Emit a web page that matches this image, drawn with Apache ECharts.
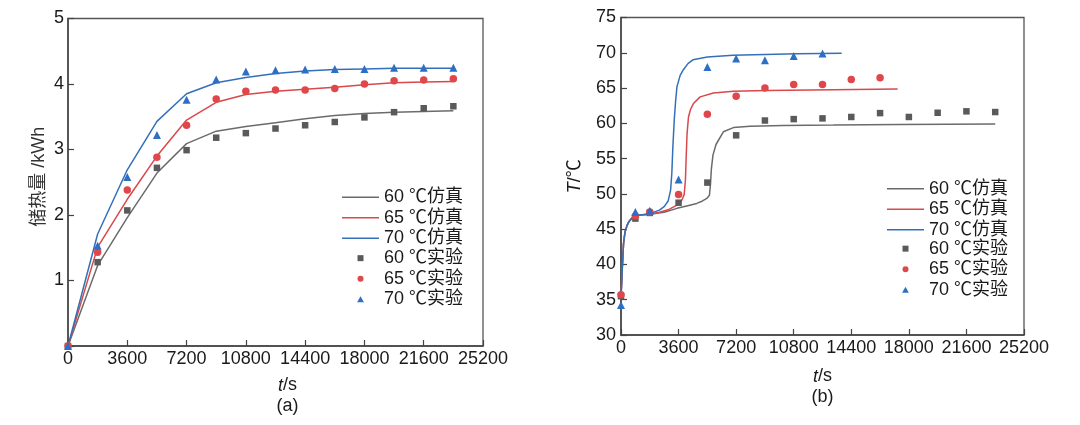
<!DOCTYPE html>
<html><head><meta charset="utf-8">
<script src="https://cdn.jsdelivr.net/npm/echarts@6/dist/echarts.min.js"></script>
<style>html,body{margin:0;padding:0;background:#fff}#c{width:1080px;height:425px}</style>
</head><body><div id="c"></div>
<script>
// ---- Chart (a): stored heat ----
const timeA = [0,1800,3600,5400,7200,9000,10800,12600,14400,16200,18000,19800,21600,23400];
const simA60 = [0,1.23,1.96,2.64,3.09,3.28,3.35,3.41,3.47,3.52,3.55,3.57,3.58,3.59];
const simA65 = [0,1.51,2.24,2.90,3.45,3.72,3.84,3.89,3.92,3.95,3.99,4.02,4.03,4.04];
const simA70 = [0,1.71,2.69,3.43,3.85,4.02,4.10,4.16,4.20,4.22,4.23,4.24,4.24,4.24];
const expA60 = [0,1.28,2.07,2.72,2.99,3.18,3.25,3.32,3.37,3.42,3.49,3.57,3.63,3.66];
const expA65 = [0,1.43,2.38,2.88,3.37,3.77,3.89,3.91,3.91,3.93,4.00,4.05,4.06,4.08];
const expA70 = [0,1.53,2.58,3.22,3.76,4.07,4.19,4.21,4.22,4.23,4.23,4.25,4.25,4.25];

// ---- Chart (b): temperature ----
const simTimeB60 = [0,80,160,250,375,500,700,900,1200,1800,2700,3500,4300,4740,5100,5365,5530,5600,5650,5750,5940,6400,7030,8070,10150,13270,17430,23400];
const simB60 = [35.5,39.5,43.0,44.6,45.5,46.1,46.6,46.85,47.0,47.1,47.4,47.95,48.4,48.65,49.0,49.35,49.8,51.5,53.5,55.5,57.0,58.8,59.4,59.6,59.7,59.75,59.85,59.9];
const simTimeB65 = [0,80,160,250,375,500,700,900,1200,1800,2400,3000,3500,3800,3950,4030,4080,4130,4220,4350,4530,4950,5780,7030,9110,13270,17300];
const simB65 = [35.5,39.5,43.0,44.6,45.5,46.1,46.6,46.85,47.0,47.1,47.4,47.8,48.4,49.1,49.9,52.0,55.5,58.5,60.9,62.0,62.8,63.75,64.3,64.55,64.65,64.75,64.85];
const simTimeB70 = [0,80,160,250,375,500,700,900,1200,1800,2400,2700,2950,3100,3180,3240,3330,3420,3500,3700,3900,4200,4500,5400,7000,9000,11000,13800];
const simB70 = [35.0,39.3,43.0,44.6,45.5,46.1,46.6,46.85,47.0,47.2,47.7,48.2,49.0,50.5,53.0,56.5,60.5,63.3,65.2,66.8,67.6,68.5,69.0,69.4,69.65,69.75,69.85,69.95];
const expTimeB60 = [0,900,1800,3600,5400,7200,9000,10800,12600,14400,16200,18000,19800,21600,23400];
const expB60 = [35.5,46.5,47.3,48.75,51.6,58.3,60.4,60.6,60.7,60.9,61.45,60.9,61.5,61.7,61.6];
const expTimeB65 = [0,900,1800,3600,5400,7200,9000,10800,12600,14400,16200];
const expB65 = [35.7,46.85,47.45,49.9,61.3,63.85,65.0,65.5,65.5,66.2,66.45];
const expTimeB70 = [0,900,1800,3600,5400,7200,9000,10800,12600];
const expB70 = [34.25,47.45,47.6,52.05,68.0,69.2,68.95,69.56,69.9];

const names = ['60 ℃仿真','65 ℃仿真','70 ℃仿真','60 ℃实验','65 ℃实验','70 ℃实验'];

const FONT = 'Liberation Sans, Arial, Noto Sans CJK SC, sans-serif';
const C = {
  gL:'#6b6b6b', rL:'#d9484a', bL:'#3470b8',
  gM:'#5a5a5a', rM:'#e0474a', bM:'#2d6fc4'
};
const pair = (xs, ys) => xs.map((x,i)=>[x, ys[i]]);

function lineS(name, xs, ys, color, gi){
  return {name, type:'line', xAxisIndex:gi, yAxisIndex:gi, data:pair(xs,ys),
    symbol:'none', showSymbol:false, lineStyle:{width:1.5, color}, itemStyle:{color}, z:2, silent:true};
}
function scatS(name, xs, ys, color, sym, size, gi){
  return {name, type:'scatter', xAxisIndex:gi, yAxisIndex:gi, data:pair(xs,ys),
    symbol:sym, symbolSize:size, symbolKeepAspect:true, itemStyle:{color, opacity:1}, z:3, silent:true};
}

const axisLineStyle = {show:true, lineStyle:{color:'#444', width:1.5}};
const tickStyle = {show:true, inside:true, length:6, lineStyle:{color:'#444', width:1.2}};
const labelBase = {color:'#1a1a1a', fontSize:18, fontFamily:FONT};

function xAx(gi, nameText, gap, pad){
  return {type:'value', gridIndex:gi, min:0, max:25200, interval:3600,
    axisLine:axisLineStyle, axisTick:tickStyle, splitLine:{show:false},
    axisLabel:Object.assign({margin:4, formatter:v=>String(v)}, labelBase),
    name:nameText, nameLocation:'middle', nameGap:gap,
    nameTextStyle:{color:'#1a1a1a', fontSize:18, fontFamily:FONT, lineHeight:21, padding:pad,
      rich:{i:{fontStyle:'italic', fontSize:18, fontFamily:FONT, color:'#1a1a1a', lineHeight:21},
            n:{fontSize:18, fontFamily:FONT, color:'#1a1a1a', lineHeight:21}}}
  };
}

// legend marker icons: 37 x 6 box with the symbol centred (degenerate end points fix the box)
const ICON_SQUARE = 'path://M0,3L0,3M37,3L37,3M15.5,0H21.5V6H15.5Z';
const ICON_CIRCLE = 'path://M0,3L0,3M37,3L37,3M15.5,3A3,3 0 1,0 21.5,3A3,3 0 1,0 15.5,3Z';
const ICON_TRI = 'path://M0,3L0,3M37,3L37,3M18.5,0L21.9,6L15.1,6Z';

function lineLegend(left, top, list, colors){
  return {orient:'vertical', left, top, padding:0, itemGap:0.3, itemWidth:37, itemHeight:1.5,
    icon:'rect', selectedMode:false,
    data:list.map((n,i)=>({name:n, icon:'rect', itemStyle:{color:colors[i], borderWidth:0}})),
    textStyle:{color:'#1a1a1a', fontSize:18, fontFamily:FONT, lineHeight:20.3}};
}
function markLegend(left, top, list, colors, icons){
  return {orient:'vertical', left, top, padding:0, itemGap:0.3, itemWidth:37, itemHeight:6,
    selectedMode:false,
    data:list.map((n,i)=>({name:n, icon:icons[i], itemStyle:{color:colors[i], borderWidth:0}})),
    textStyle:{color:'#1a1a1a', fontSize:18, fontFamily:FONT, lineHeight:20.3}};
}
const lineColors = [C.gL, C.rL, C.bL];
const markColors = [C.gM, C.rM, C.bM];
const markIcons = [ICON_SQUARE, ICON_CIRCLE, ICON_TRI];

const chart = echarts.init(document.getElementById('c'), null, {renderer:'canvas'});
chart.setOption({
  animation:false,
  backgroundColor:'#fff',
  grid:[
    {left:68, right:597, top:18.5, bottom:79, show:true, borderColor:'#555', borderWidth:1.3, containLabel:false},
    {left:621, right:56, top:17.5, bottom:90, show:true, borderColor:'#555', borderWidth:1.3, containLabel:false}
  ],
  xAxis:[
    xAx(0, '{i|t}{n|/s}\n{n|(a)}', 29, [0,0,0,24]),
    xAx(1, '{i|t}{n|/s}\n{n|(b)}', 31, [0,0,0,0])
  ],
  yAxis:[
    {type:'value', gridIndex:0, min:0, max:5, interval:1,
      axisLine:axisLineStyle, axisTick:tickStyle, splitLine:{show:false},
      axisLabel:Object.assign({margin:4, formatter:v=> v===0 ? '' : String(v)}, labelBase),
      name:'储热量 /kWh', nameLocation:'middle', nameGap:20,
      nameTextStyle:{color:'#333', fontSize:18, fontFamily:FONT, padding:[0,0,0,11]}},
    {type:'value', gridIndex:1, min:30, max:75, interval:5,
      axisLine:axisLineStyle, axisTick:tickStyle, splitLine:{show:false},
      axisLabel:Object.assign({margin:5}, labelBase),
      name:'{i|T}{n|/℃}', nameLocation:'middle', nameGap:37,
      nameTextStyle:{color:'#1a1a1a', fontSize:18, fontFamily:FONT,
        rich:{i:{fontStyle:'italic', fontSize:18, fontFamily:FONT, color:'#1a1a1a'},
              n:{fontSize:18, fontFamily:FONT, color:'#1a1a1a'}}}}
  ],
  legend:[
    lineLegend(342, 187, names.slice(0,3), lineColors),
    markLegend(342, 248, names.slice(3), markColors, markIcons),
    lineLegend(887, 178.5, names.slice(0,3), lineColors),
    markLegend(887, 238.5, names.slice(3), markColors, markIcons)
  ],
  series:[
    lineS(names[0], timeA, simA60, C.gL, 0),
    lineS(names[1], timeA, simA65, C.rL, 0),
    lineS(names[2], timeA, simA70, C.bL, 0),
    scatS(names[3], timeA, expA60, C.gM, 'rect', 6.5, 0),
    scatS(names[4], timeA, expA65, C.rM, 'circle', 7.5, 0),
    scatS(names[5], timeA, expA70, C.bM, 'triangle', 8, 0),
    lineS(names[0], simTimeB60, simB60, C.gL, 1),
    lineS(names[1], simTimeB65, simB65, C.rL, 1),
    lineS(names[2], simTimeB70, simB70, C.bL, 1),
    scatS(names[3], expTimeB60, expB60, C.gM, 'rect', 6.5, 1),
    scatS(names[4], expTimeB65, expB65, C.rM, 'circle', 7.5, 1),
    scatS(names[5], expTimeB70, expB70, C.bM, 'triangle', 8, 1)
  ]
});
</script>
</body></html>
